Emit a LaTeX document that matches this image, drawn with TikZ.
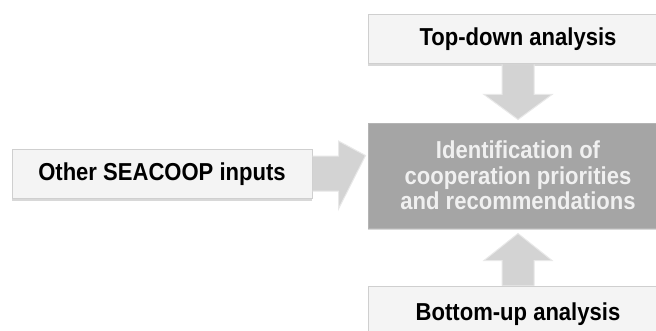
\documentclass[tikz,border=0pt]{standalone}
\usepackage{fontspec}
\setmainfont{Liberation Sans}[FakeStretch=0.9]
\usetikzlibrary{calc,shadows}
\definecolor{boxfill}{HTML}{F4F4F4}
\definecolor{boxline}{HTML}{CFCFCF}
\definecolor{mainfill}{HTML}{A5A5A5}
\definecolor{mainline}{HTML}{B4B4B4}
\definecolor{arrfill}{HTML}{D3D3D3}
\definecolor{arrline}{HTML}{E8E8E8}
\tikzset{
  txt/.style={font=\fontsize{24.5pt}{25.7pt}\selectfont\bfseries},
  lightbox/.style={draw=boxline, line width=1pt, fill=boxfill, minimum width=300pt, minimum height=49pt,
    inner sep=0pt, txt, text=black,
    drop shadow={shadow xshift=0pt, shadow yshift=-2pt, opacity=0.25, fill=black!60}},
  mainbox/.style={draw=mainline, line width=1pt, fill=mainfill, minimum width=300pt, minimum height=105pt,
    inner sep=0pt, align=center, txt, text=white!94!black,
    drop shadow={shadow xshift=0pt, shadow yshift=-2pt, opacity=0.25, fill=black!60}},
  fatarrow/.style={fill=arrfill, draw=arrline, line width=1pt, line join=miter}
}
\begin{document}
\begin{tikzpicture}[x=1pt,y=1pt]
\useasboundingbox (0,0) rectangle (656,330);
\clip (0,0) rectangle (656,330);
\fill[white] (0,0) rectangle (656,330);
\node[lightbox] (top) at (518,290.5) {Top-down analysis};
\node[mainbox] (main) at (518,154.5) {Identification of\\cooperation priorities\\and recommendations};
\node[lightbox] (left) at (162,156) {Other SEACOOP inputs};
\node[lightbox] (bottom) at (518,19.5) {};
\node[txt, anchor=base] (bottomtext) at (518,10) {Bottom-up analysis};
% down arrow
\draw[fatarrow] ($(top.south)+(-16,0)$) -- ($(top.south)+(-16,-30)$) -- ($(top.south)+(-34,-30)$)
  -- ($(main.north)+(0,3)$) -- ($(top.south)+(34,-30)$) -- ($(top.south)+(16,-30)$) -- ($(top.south)+(16,0)$);
% up arrow
\draw[fatarrow] ($(bottom.north)+(-16,0)$) -- ($(bottom.north)+(-16,25)$) -- ($(bottom.north)+(-34,25)$)
  -- ($(main.south)+(0,-5)$) -- ($(bottom.north)+(34,25)$) -- ($(bottom.north)+(16,25)$) -- ($(bottom.north)+(16,0)$);
% right arrow
\draw[fatarrow] ($(left.east)+(0,18)$) -- ($(left.east)+(26,18)$) -- ($(left.east)+(26,33)$)
  -- ($(main.west)+(-2,20)$) -- ($(left.east)+(26,-35)$) -- ($(left.east)+(26,-17)$) -- ($(left.east)+(0,-17)$);
\end{tikzpicture}
\end{document}
